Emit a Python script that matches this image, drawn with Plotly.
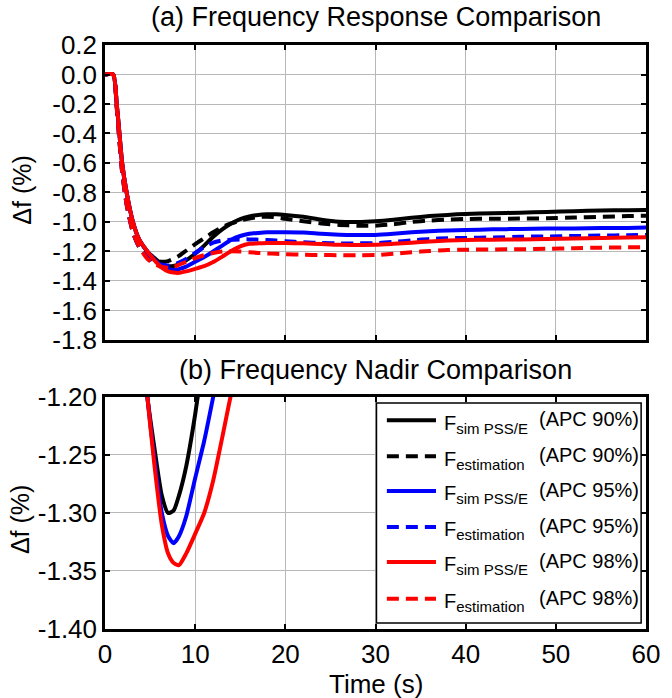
import plotly.graph_objects as go

# ---------------- data ----------------
time_s = [0, 0.9, 1.3, 1.6, 1.9, 2.4, 3.1, 3.8, 4.7, 5.5, 6.3, 7.0, 7.6, 8.2, 9.0,
          10, 11, 12, 13, 14, 15, 16, 17, 18, 19, 20,
          22, 24, 26, 28, 30, 32, 34, 36, 38, 40,
          43, 46, 49, 52, 55, 58, 60]

sim_apc90 = [0, 0, -0.2, -0.4, -0.6, -0.8, -1.0, -1.12, -1.2,
             -1.245, -1.285, -1.30, -1.298, -1.285, -1.26,
             -1.215, -1.16, -1.10, -1.05, -1.01, -0.98, -0.962, -0.952, -0.948, -0.948, -0.952,
             -0.965, -0.985, -0.998, -1.0, -0.995, -0.985, -0.972, -0.96, -0.952, -0.945,
             -0.94, -0.937, -0.932, -0.927, -0.922, -0.92, -0.918]
est_apc90 = [0, 0, -0.22, -0.45, -0.66, -0.88, -1.07, -1.17, -1.23,
             -1.26, -1.27, -1.265, -1.25, -1.23, -1.195,
             -1.15, -1.11, -1.07, -1.035, -1.01, -0.99, -0.976, -0.966, -0.964, -0.968, -0.978,
             -0.995, -1.01, -1.02, -1.025, -1.025, -1.015, -1.0, -0.99, -0.984, -0.98,
             -0.978, -0.977, -0.975, -0.97, -0.965, -0.96, -0.958]
sim_apc95 = [0, 0, -0.2, -0.4, -0.6, -0.8, -1.0, -1.12, -1.2,
             -1.255, -1.30, -1.32, -1.326, -1.32, -1.303,
             -1.27, -1.238, -1.20, -1.16, -1.12, -1.095, -1.08, -1.074, -1.07, -1.07, -1.07,
             -1.072, -1.08, -1.086, -1.088, -1.088, -1.08, -1.07, -1.062, -1.057, -1.054,
             -1.05, -1.047, -1.045, -1.044, -1.04, -1.04, -1.038]
est_apc95 = [0, 0, -0.22, -0.45, -0.66, -0.88, -1.07, -1.17, -1.24,
             -1.27, -1.29, -1.295, -1.29, -1.275, -1.25,
             -1.21, -1.17, -1.14, -1.125, -1.12, -1.118, -1.118, -1.12, -1.122, -1.126, -1.13,
             -1.138, -1.143, -1.145, -1.145, -1.144, -1.135, -1.125, -1.115, -1.11, -1.108,
             -1.105, -1.10, -1.098, -1.095, -1.092, -1.09, -1.088]
sim_apc98 = [0, 0, -0.2, -0.4, -0.6, -0.8, -1.0, -1.12, -1.2,
             -1.26, -1.31, -1.335, -1.343, -1.345, -1.335,
             -1.318, -1.30, -1.272, -1.235, -1.197, -1.165, -1.148, -1.145, -1.143, -1.142, -1.142,
             -1.145, -1.15, -1.155, -1.156, -1.155, -1.148, -1.14, -1.132, -1.126, -1.122,
             -1.12, -1.118, -1.116, -1.112, -1.108, -1.105, -1.104]
est_apc98 = [0, 0, -0.22, -0.45, -0.66, -0.88, -1.07, -1.17, -1.25,
             -1.285, -1.305, -1.31, -1.305, -1.29, -1.27,
             -1.245, -1.225, -1.21, -1.20, -1.198, -1.20, -1.205, -1.21, -1.213, -1.216, -1.218,
             -1.222, -1.224, -1.225, -1.225, -1.224, -1.215, -1.205, -1.197, -1.19, -1.188,
             -1.186, -1.185, -1.182, -1.178, -1.174, -1.172, -1.171]

x_ticks = [0, 10, 20, 30, 40, 50, 60]
x_tick_labels = ["0", "10", "20", "30", "40", "50", "60"]
top_y_ticks = [-1.8, -1.6, -1.4, -1.2, -1.0, -0.8, -0.6, -0.4, -0.2, 0.0, 0.2]
top_y_labels = ["-1.8", "-1.6", "-1.4", "-1.2", "-1.0", "-0.8", "-0.6", "-0.4", "-0.2", "0.0", "0.2"]
bot_y_ticks = [-1.40, -1.35, -1.30, -1.25, -1.20]
bot_y_labels = ["-1.40", "-1.35", "-1.30", "-1.25", "-1.20"]

series_labels = ["sim PSS/E", "estimation", "sim PSS/E", "estimation", "sim PSS/E", "estimation"]
series_cases = ["(APC 90%)", "(APC 90%)", "(APC 95%)", "(APC 95%)", "(APC 98%)", "(APC 98%)"]
series_values = [sim_apc90, est_apc90, sim_apc95, est_apc95, sim_apc98, est_apc98]
series_colors = ["#000000", "#000000", "#0000ff", "#0000ff", "#ff0000", "#ff0000"]
series_dash = ["solid", "12px,7px", "solid", "12px,7px", "solid", "12px,7px"]
series_in_nadir = [True, False, True, False, True, False]

FONT = "Liberation Sans, Arial, Helvetica, sans-serif"

fig = go.Figure()
for sub, case, vals, color, dash in zip(series_labels, series_cases, series_values,
                                        series_colors, series_dash):
    fig.add_trace(go.Scatter(x=time_s, y=vals, mode="lines", name=f"F {sub} {case}",
                             line=dict(color=color, width=4, dash=dash, shape="spline",
                                       smoothing=0.6),
                             xaxis="x", yaxis="y", showlegend=False))
for sub, case, vals, color, dash, nadir in zip(series_labels, series_cases, series_values,
                                               series_colors, series_dash, series_in_nadir):
    if nadir:
        fig.add_trace(go.Scatter(x=time_s, y=vals, mode="lines", name=f"F {sub} {case}",
                                 line=dict(color=color, width=4, dash=dash, shape="spline",
                                           smoothing=0.6),
                                 xaxis="x2", yaxis="y2", showlegend=False))

axis_common = dict(showline=True, linecolor="black", linewidth=2.5, mirror="ticks",
                   ticks="inside", ticklen=5, tickwidth=1.5, tickcolor="black",
                   showgrid=True, gridcolor="#b8b8b8", gridwidth=1, zeroline=False,
                   tickfont=dict(family=FONT, size=26, color="black"))

fig.update_layout(
    width=672, height=698,
    margin=dict(l=105, r=15, t=45, b=69),
    paper_bgcolor="white", plot_bgcolor="white",
    font=dict(family=FONT, color="black"),
    xaxis=dict(domain=[0, 1], anchor="y", range=[0, 60], tickvals=x_ticks,
               ticktext=x_tick_labels, showticklabels=False, **axis_common),
    yaxis=dict(domain=[0.4949, 1], anchor="x", range=[-1.8, 0.2], tickvals=top_y_ticks,
               ticktext=top_y_labels, **axis_common),
    xaxis2=dict(domain=[0, 1], anchor="y2", range=[0, 60], tickvals=x_ticks,
                ticktext=x_tick_labels, **axis_common),
    yaxis2=dict(domain=[0, 0.3973], anchor="x2", range=[-1.40, -1.20], tickvals=bot_y_ticks,
                ticktext=bot_y_labels, **axis_common),
)

annotations = [
    dict(text="(a) Frequency Response Comparison", x=0.5, y=1.0479, xref="paper", yref="paper",
         xanchor="center", yanchor="middle", showarrow=False, font=dict(size=27)),
    dict(text="(b) Frequency Nadir Comparison", x=0.5, y=0.4435, xref="paper", yref="paper",
         xanchor="center", yanchor="middle", showarrow=False, font=dict(size=27)),
    dict(text="Δf (%)", x=-0.154, y=0.7517, xref="paper", yref="paper", textangle=-90,
         xanchor="center", yanchor="middle", showarrow=False, font=dict(size=25)),
    dict(text="Δf (%)", x=-0.157, y=0.1866, xref="paper", yref="paper", textangle=-90,
         xanchor="center", yanchor="middle", showarrow=False, font=dict(size=25)),
    dict(text="Time (s)", x=0.5, y=-0.095, xref="paper", yref="paper",
         xanchor="center", yanchor="middle", showarrow=False, font=dict(size=26)),
]

# custom legend inside the bottom panel
shapes = [dict(type="rect", xref="x2 domain", yref="y2 domain", x0=0.5018, x1=0.991,
               y0=0.026, y1=0.974, fillcolor="white", line=dict(color="black", width=1.5),
               layer="above")]
row_y = [0.8996, 0.7444, 0.5948, 0.4397, 0.2888, 0.1306]
for sub, case, color, dash, ry in zip(series_labels, series_cases, series_colors,
                                      series_dash, row_y):
    shapes.append(dict(type="line", xref="x2 domain", yref="y2 domain", x0=0.521, x1=0.6118,
                       y0=ry, y1=ry, line=dict(color=color, width=4, dash=dash), layer="above"))
    annotations.append(dict(text=f"F<sub><span style='font-size:15px'>{sub}</span></sub>",
                            x=0.623, y=ry, xref="x2 domain", yref="y2 domain",
                            xanchor="left", yanchor="middle", showarrow=False, yshift=-4,
                            font=dict(size=20)))
    annotations.append(dict(text=case, x=0.7985, y=ry, xref="x2 domain", yref="y2 domain",
                            xanchor="left", yanchor="middle", showarrow=False, yshift=1,
                            font=dict(size=20)))

fig.update_layout(annotations=annotations, shapes=shapes)
fig.write_html("out.html")
